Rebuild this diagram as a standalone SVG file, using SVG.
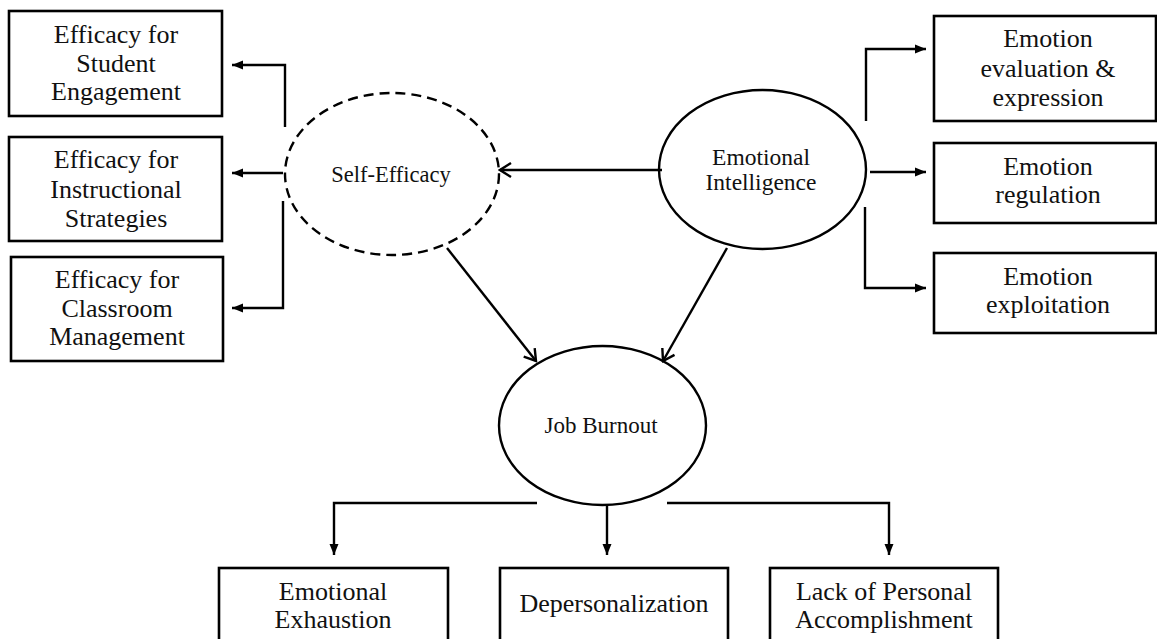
<svg xmlns="http://www.w3.org/2000/svg" width="1157" height="639" viewBox="0 0 1157 639">
<style>
.box{fill:#fff;stroke:#000;stroke-width:2.6}
.ell{fill:none;stroke:#000;stroke-width:2.4}
.dash{stroke-dasharray:10 6}
.ln{fill:none;stroke:#000;stroke-width:2.4}
.t{font-family:"Liberation Serif","Times New Roman",serif;fill:#111;text-anchor:middle}
.b{font-size:26px}
</style>
<defs>
<marker id="fa" markerUnits="userSpaceOnUse" markerWidth="12" markerHeight="10" refX="11" refY="5" orient="auto">
<path d="M0,0.5 L11,5 L0,9.5 z" fill="#000"/>
</marker>
<marker id="oa" markerUnits="userSpaceOnUse" markerWidth="14" markerHeight="18" refX="12" refY="9" orient="auto">
<path d="M1,2 L12,9 L1,16" fill="none" stroke="#000" stroke-width="2.4"/>
</marker>
</defs>
<rect width="1157" height="639" fill="#fff"/>
<g id="connectors">
<polyline class="ln" points="285,127 285,65 232,65" marker-end="url(#fa)"/>
<line class="ln" x1="283" y1="173" x2="232" y2="173" marker-end="url(#fa)"/>
<polyline class="ln" points="283,201 283,308 232,308" marker-end="url(#fa)"/>
<line class="ln" x1="662" y1="170" x2="500" y2="170" marker-end="url(#oa)"/>
<polyline class="ln" points="866,121 866,49 926,49" marker-end="url(#fa)"/>
<line class="ln" x1="870" y1="172" x2="926" y2="172" marker-end="url(#fa)"/>
<polyline class="ln" points="865,207 865,288 926,288" marker-end="url(#fa)"/>
<line class="ln" x1="447" y1="248" x2="536" y2="361" marker-end="url(#oa)"/>
<line class="ln" x1="727" y1="248" x2="663" y2="361" marker-end="url(#oa)"/>
<polyline class="ln" points="537,503 334,503 334,555" marker-end="url(#fa)"/>
<line class="ln" x1="607" y1="505" x2="607" y2="555" marker-end="url(#fa)"/>
<polyline class="ln" points="667,503 889,503 889,555" marker-end="url(#fa)"/>
</g>
<g id="n-student">
<rect class="box" x="9" y="11" width="213" height="105"/>
<text class="t b" x="116" y="43">Efficacy for</text>
<text class="t b" x="116" y="72">Student</text>
<text class="t b" x="116" y="100">Engagement</text>
</g>
<g id="n-instructional">
<rect class="box" x="9" y="137" width="213" height="104"/>
<text class="t b" x="116" y="168">Efficacy for</text>
<text class="t b" x="116" y="198">Instructional</text>
<text class="t b" x="116" y="227">Strategies</text>
</g>
<g id="n-classroom">
<rect class="box" x="11" y="257" width="212" height="104"/>
<text class="t b" x="117" y="288">Efficacy for</text>
<text class="t b" x="117" y="317">Classroom</text>
<text class="t b" x="117" y="345">Management</text>
</g>
<g id="n-selfefficacy">
<ellipse class="ell dash" cx="392" cy="174" rx="107" ry="81"/>
<text class="t" x="391" y="182" font-size="22.5">Self-Efficacy</text>
</g>
<g id="n-ei">
<ellipse class="ell" cx="762.5" cy="169.5" rx="103.5" ry="79.5"/>
<text class="t" x="761" y="165" font-size="23.5">Emotional</text>
<text class="t" x="761" y="190" font-size="23.5">Intelligence</text>
</g>
<g id="n-eval">
<rect class="box" x="934" y="16" width="222" height="105"/>
<text class="t b" x="1048" y="47">Emotion</text>
<text class="t b" x="1048" y="77">evaluation &amp;</text>
<text class="t b" x="1048" y="106">expression</text>
</g>
<g id="n-regulation">
<rect class="box" x="934" y="143" width="222" height="80"/>
<text class="t b" x="1048" y="175">Emotion</text>
<text class="t b" x="1048" y="203">regulation</text>
</g>
<g id="n-exploitation">
<rect class="box" x="934" y="253" width="222" height="80"/>
<text class="t b" x="1048" y="285">Emotion</text>
<text class="t b" x="1048" y="313">exploitation</text>
</g>
<g id="n-burnout">
<ellipse class="ell" cx="602.5" cy="425.5" rx="103.5" ry="79.5"/>
<text class="t" x="601" y="433" font-size="23">Job Burnout</text>
</g>
<g id="n-exhaustion">
<rect class="box" x="219" y="568" width="229" height="100"/>
<text class="t b" x="333" y="600">Emotional</text>
<text class="t b" x="333" y="628">Exhaustion</text>
</g>
<g id="n-depersonalization">
<rect class="box" x="500" y="568" width="228" height="100"/>
<text class="t b" x="614" y="612">Depersonalization</text>
</g>
<g id="n-accomplishment">
<rect class="box" x="770" y="568" width="228" height="100"/>
<text class="t b" x="884" y="600">Lack of Personal</text>
<text class="t b" x="884" y="628">Accomplishment</text>
</g>
</svg>
